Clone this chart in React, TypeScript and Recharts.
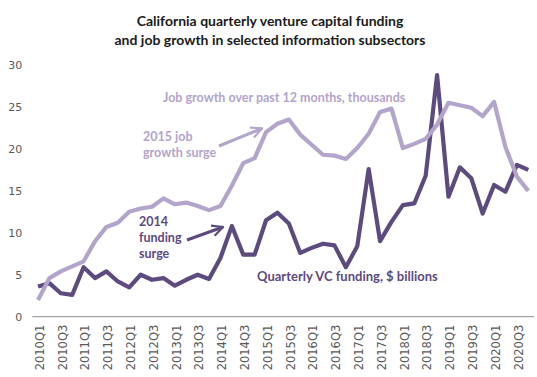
import React from "react";
import { LineChart, Line, XAxis, YAxis } from "recharts";

const quarters = [
  "2010Q1","2010Q2","2010Q3","2010Q4",
  "2011Q1","2011Q2","2011Q3","2011Q4",
  "2012Q1","2012Q2","2012Q3","2012Q4",
  "2013Q1","2013Q2","2013Q3","2013Q4",
  "2014Q1","2014Q2","2014Q3","2014Q4",
  "2015Q1","2015Q2","2015Q3","2015Q4",
  "2016Q1","2016Q2","2016Q3","2016Q4",
  "2017Q1","2017Q2","2017Q3","2017Q4",
  "2018Q1","2018Q2","2018Q3","2018Q4",
  "2019Q1","2019Q2","2019Q3","2019Q4",
  "2020Q1","2020Q2","2020Q3","2020Q4",
];

const vcFunding = [
  3.6, 4.0, 2.8, 2.6, 5.9, 4.6, 5.4, 4.2, 3.5, 5.0, 4.4, 4.6,
  3.7, 4.4, 5.0, 4.5, 7.0, 10.8, 7.4, 7.4, 11.5, 12.4, 11.1, 7.6,
  8.2, 8.7, 8.5, 5.9, 8.4, 17.6, 9.0, 11.3, 13.3, 13.5, 16.8, 28.8,
  14.3, 17.8, 16.5, 12.3, 15.7, 14.9, 18.1, 17.5,
];

const jobGrowth = [
  2.0, 4.6, 5.4, 6.0, 6.6, 9.0, 10.7, 11.2, 12.5, 12.9, 13.1, 14.1,
  13.4, 13.6, 13.2, 12.7, 13.2, 15.6, 18.3, 18.9, 22.0, 23.0, 23.5, 21.7,
  20.5, 19.3, 19.2, 18.8, 20.1, 21.8, 24.4, 24.8, 20.1, 20.6, 21.2, 22.9,
  25.5, 25.2, 24.9, 23.9, 25.6, 20.2, 16.7, 15.0,
];

const yTicks = [0, 5, 10, 15, 20, 25, 30];

const titleLines = [
  "California quarterly venture capital funding",
  "and job growth in selected information subsectors",
];

const data = quarters.map((q, i) => ({ q, vc: vcFunding[i], job: jobGrowth[i] }));

const DARK = "#5d4a7e";
const LIGHT = "#b3a4cb";
const TICK = "#595959";
const FONT = "Lato, 'Open Sans', sans-serif";

const XTick = (props: any) => {
  const { x, y, payload } = props;
  return (
    <text
      x={x}
      y={y}
      transform={`rotate(-90, ${x}, ${y})`}
      textAnchor="end"
      dy="0.5em"
      fontSize={11.5}
      fontFamily="'DejaVu Sans', sans-serif"
      fill={TICK}
    >
      {payload.value}
    </text>
  );
};

export default function App() {
  return (
    <div style={{ position: "absolute", left: 0, top: 0, width: 537, height: 377, background: "#fff" }}>
      <LineChart
        width={537}
        height={377}
        data={data}
        margin={{ top: 65, right: 3, bottom: 5, left: 0 }}
      >
        <XAxis
          dataKey="q"
          interval={1}
          tick={<XTick />}
          tickLine={false}
          axisLine={{ stroke: "#8c8c8c", strokeWidth: 1 }}
          height={55.3}
          padding={{ left: 5.7, right: 5.7 }}
        />
        <YAxis
          domain={[0, 30]}
          ticks={yTicks}
          width={32.3}
          axisLine={false}
          tickLine={false}
          tickMargin={4}
          tick={{ fill: TICK, fontSize: 11, fontFamily: "'DejaVu Sans', sans-serif" }}
        />
        <Line
          type="linear"
          dataKey="vc"
          stroke={DARK}
          strokeWidth={4.2}
          strokeLinejoin="round"
          dot={false}
          activeDot={false}
          isAnimationActive={false}
        />
        <Line
          type="linear"
          dataKey="job"
          stroke={LIGHT}
          strokeWidth={4.2}
          strokeLinejoin="round"
          dot={false}
          activeDot={false}
          isAnimationActive={false}
        />
      </LineChart>
      <svg
        width={537}
        height={377}
        style={{ position: "absolute", left: 0, top: 0, pointerEvents: "none" }}
      >
        <defs>
          <marker id="arrLight" viewBox="0 0 10 10" refX="9" refY="5" markerWidth="4.5" markerHeight="4.5" orient="auto">
            <path d="M1,1 L9,5 L1,9" fill="none" stroke={LIGHT} strokeWidth={1.6} />
          </marker>
          <marker id="arrDark" viewBox="0 0 10 10" refX="9" refY="5" markerWidth="4.5" markerHeight="4.5" orient="auto">
            <path d="M1,1 L9,5 L1,9" fill="none" stroke={DARK} strokeWidth={1.6} />
          </marker>
        </defs>
        <g fontFamily={FONT} fontWeight={700} fontSize={14} fill="#1a1a1a" textAnchor="middle">
          <text x={270} y={26}>{titleLines[0]}</text>
          <text x={270} y={45}>{titleLines[1]}</text>
        </g>
        <g fontFamily={FONT} fontWeight={700} fontSize={12.5} fill={LIGHT}>
          <text x={163} y={102}>Job growth over past 12 months, thousands</text>
          <text x={143} y={141}>2015 job</text>
          <text x={143} y={157}>growth surge</text>
        </g>
        <line x1={219} y1={146} x2={262} y2={128.5} stroke={LIGHT} strokeWidth={3} markerEnd="url(#arrLight)" />
        <g fontFamily={FONT} fontWeight={700} fontSize={12.5} fill={DARK}>
          <text x={139} y={226}>2014</text>
          <text x={139} y={242}>funding</text>
          <text x={139} y={258}>surge</text>
          <text x={257} y={281} fontSize={13}>Quarterly VC funding, $ billions</text>
        </g>
        <line x1={187} y1={240} x2={223} y2={227} stroke={DARK} strokeWidth={3} markerEnd="url(#arrDark)" />
      </svg>
    </div>
  );
}
